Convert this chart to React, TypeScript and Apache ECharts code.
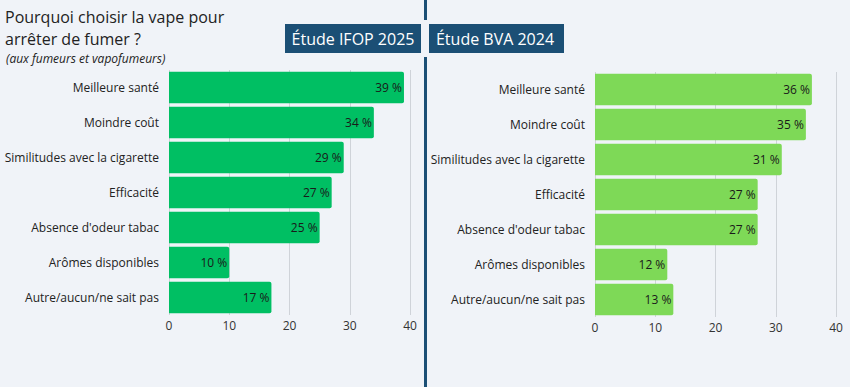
import React, { useEffect, useRef } from "react";
import * as echarts from "echarts";

const categories = [
  "Meilleure santé",
  "Moindre coût",
  "Similitudes avec la cigarette",
  "Efficacité",
  "Absence d'odeur tabac",
  "Arômes disponibles",
  "Autre/aucun/ne sait pas",
];
const ifop2025 = [39, 34, 29, 27, 25, 10, 17];
const bva2024 = [36, 35, 31, 27, 27, 12, 13];
const titleLines = ["Pourquoi choisir la vape pour", "arrêter de fumer ?"];
const subtitle = "(aux fumeurs et vapofumeurs)";
const badgeLabels = ["Étude IFOP 2025", "Étude BVA 2024"];

const BG = "#f0f3f8";
const NAVY = "#1b4f75";
const FONT = "'Open Sans', 'Noto Sans', sans-serif";

export default function App() {
  const ref = useRef<HTMLDivElement>(null);
  useEffect(() => {
    if (!ref.current) return;
    const chart = echarts.init(ref.current, undefined, { renderer: "svg" });
    const xAxisBase = (gridIndex: number) => ({
      type: "value" as const,
      gridIndex,
      min: 0,
      max: 40,
      interval: 10,
      axisLine: { show: false },
      axisTick: { show: false },
      axisLabel: { color: "#333", fontSize: 12, fontFamily: FONT, margin: 4 },
      splitLine: { show: true, lineStyle: { color: "#cfd3d9", width: 1 } },
    });
    const yAxisBase = (gridIndex: number, margin: number) => ({
      type: "category" as const,
      gridIndex,
      data: categories,
      inverse: true,
      axisLine: { show: false },
      axisTick: { show: false },
      axisLabel: { color: "#222", fontSize: 12, fontFamily: FONT, margin },
      splitLine: { show: false },
    });
    const seriesBase = (idx: number, data: number[], color: string) => ({
      type: "bar" as const,
      xAxisIndex: idx,
      yAxisIndex: idx,
      data,
      barCategoryGap: "10%",
      itemStyle: { color, borderRadius: [0, 2, 2, 0] },
      label: {
        show: true,
        position: "insideRight" as const,
        distance: 2,
        formatter: "{c} %",
        color: "#1a1a1a",
        fontSize: 12,
        fontFamily: FONT,
      },
    });
    chart.setOption({
      animation: false,
      backgroundColor: BG,
      grid: [
        { left: 169, right: 440, top: 70, height: 245 },
        { left: 595, right: 14, top: 72, height: 245 },
      ],
      xAxis: [xAxisBase(0), xAxisBase(1)],
      yAxis: [yAxisBase(0, 10), yAxisBase(1, 10)],
      series: [
        seriesBase(0, ifop2025, "#00bf63"),
        seriesBase(1, bva2024, "#7ed957"),
      ],
      graphic: [
        {
          type: "rect",
          shape: { x: 424, y: 0, width: 3, height: 387 },
          style: { fill: NAVY },
          z: 10,
        },
        {
          type: "rect",
          shape: { x: 283, y: 22, width: 140, height: 33 },
          style: { fill: NAVY, stroke: BG, lineWidth: 4 },
          z: 11,
        },
        {
          type: "rect",
          shape: { x: 427, y: 22, width: 139, height: 33 },
          style: { fill: NAVY, stroke: BG, lineWidth: 4 },
          z: 11,
        },
        {
          type: "text",
          x: 353,
          y: 39,
          style: {
            text: badgeLabels[0],
            fill: "#fff",
            fontSize: 16,
            fontFamily: FONT,
            align: "center",
            verticalAlign: "middle",
          },
          z: 12,
        },
        {
          type: "text",
          x: 495,
          y: 39,
          style: {
            text: badgeLabels[1],
            fill: "#fff",
            fontSize: 16,
            fontFamily: FONT,
            align: "center",
            verticalAlign: "middle",
          },
          z: 12,
        },
        {
          type: "text",
          x: 5,
          y: 17,
          style: {
            text: titleLines[0],
            fill: "#222",
            fontSize: 16,
            fontFamily: FONT,
            verticalAlign: "middle",
          },
          z: 12,
        },
        {
          type: "text",
          x: 5,
          y: 38.5,
          style: {
            text: titleLines[1],
            fill: "#222",
            fontSize: 16,
            fontFamily: FONT,
            verticalAlign: "middle",
          },
          z: 12,
        },
        {
          type: "text",
          x: 6,
          y: 58,
          style: {
            text: subtitle,
            fill: "#222",
            fontSize: 12,
            fontStyle: "italic",
            fontFamily: FONT,
            verticalAlign: "middle",
          },
          z: 12,
        },
      ],
    });
    return () => chart.dispose();
  }, []);
  return (
    <div
      ref={ref}
      style={{ position: "fixed", left: 0, top: 0, width: 850, height: 387 }}
    />
  );
}
